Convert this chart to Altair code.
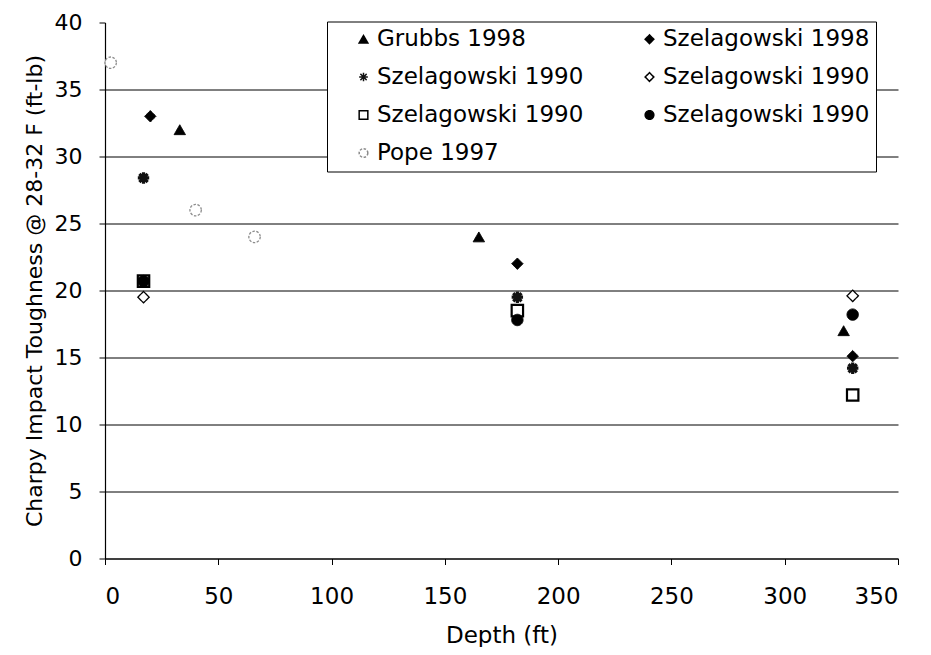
import altair as alt
import pandas as pd

# ---- data ----
series_keys = [
    "Grubbs 1998|a",
    "Szelagowski 1998|b",
    "Szelagowski 1990|c",
    "Szelagowski 1990|d",
    "Szelagowski 1990|e",
    "Szelagowski 1990|f",
    "Pope 1997|g",
]
grubbs_1998_x = [33, 165, 326]
grubbs_1998_y = [32, 24, 17]
szel_1998_x = [20, 182, 330]
szel_1998_y = [33, 22, 15.1]
szel_1990_star_x = [17, 17, 182, 330]
szel_1990_star_y = [28.4, 20.7, 19.5, 14.2]
szel_1990_odiam_x = [17, 182, 330]
szel_1990_odiam_y = [19.5, 18.2, 19.6]
szel_1990_osq_x = [17, 182, 330]
szel_1990_osq_y = [20.7, 18.5, 12.2]
szel_1990_circ_x = [17, 182, 330]
szel_1990_circ_y = [20.7, 17.8, 18.2]
pope_1997_x = [2.5, 40, 66]
pope_1997_y = [37, 26, 24]

x_ticks = [0, 50, 100, 150, 200, 250, 300, 350]
y_ticks = [0, 5, 10, 15, 20, 25, 30, 35, 40]

# ---- styles ----
asterisk = "M-1,0L1,0M0,-1L0,1M-0.72,-0.72L0.72,0.72M-0.72,0.72L0.72,-0.72"
shapes = ["triangle-up", "diamond", asterisk, "diamond", "square", "circle", "circle"]
fills = ["#000000", "#000000", "#000000", "#ffffff", "#ffffff", "#000000", "#ffffff"]
strokes = ["#000000", "#000000", "#111111", "#000000", "#000000", "#000000", "#8c8c8c"]
widths = [1, 1, 3.2, 1.3, 2.2, 1, 1.3]
dashes = [[1, 0], [1, 0], [1, 0], [1, 0], [1, 0], [1, 0], [2.5, 1.5]]

pairs = [
    (grubbs_1998_x, grubbs_1998_y),
    (szel_1998_x, szel_1998_y),
    (szel_1990_star_x, szel_1990_star_y),
    (szel_1990_odiam_x, szel_1990_odiam_y),
    (szel_1990_osq_x, szel_1990_osq_y),
    (szel_1990_circ_x, szel_1990_circ_y),
    (pope_1997_x, pope_1997_y),
]
rows = []
for i, (key, (xs, ys)) in enumerate(zip(series_keys, pairs)):
    for xv, yv in zip(xs, ys):
        rows.append({"key": key, "order": i, "sw": widths[i], "depth": xv, "tough": yv})
df = pd.DataFrame(rows)

FONT = "DejaVu Sans"

leg = alt.Legend(
    title=None,
    orient="none",
    legendX=222,
    legendY=-1,
    direction="horizontal",
    columns=2,
    labelExpr="split(datum.label, '|')[0]",
    labelFont=FONT,
    labelFontSize=23,
    labelColor="#000000",
    labelLimit=400,
    symbolSize=75,
    symbolStrokeWidth=1.5,
    symbolOffset=19,
    labelOffset=2,
    strokeColor="#000000",
    fillColor="#ffffff",
    padding=6,
    rowPadding=14,
    columnPadding=35,
)

points = alt.Chart(df).mark_point(opacity=1, fillOpacity=1, size=130).encode(
    x=alt.X(
        "depth:Q",
        scale=alt.Scale(domain=[0, 350], nice=False, zero=False),
        axis=alt.Axis(
            title="Depth (ft)",
            values=x_ticks,
            grid=False,
            tickSize=6,
            labelPadding=21,
            labelFontSize=23,
            titleFontSize=23,
            titlePadding=16,
        ),
    ),
    y=alt.Y(
        "tough:Q",
        scale=alt.Scale(domain=[0, 40], nice=False),
        axis=alt.Axis(
            title="Charpy Impact Toughness @ 28-32 F (ft-lb)",
            values=y_ticks,
            grid=True,
            gridColor={
                "condition": {"test": "datum.value >= 40", "value": "transparent"},
                "value": "#000000",
            },
            tickSize=6,
            labelPadding=17,
            labelFontSize=22,
            titleFontSize=22,
            titlePadding=8,
        ),
    ),
    shape=alt.Shape("key:N", scale=alt.Scale(domain=series_keys, range=shapes), legend=leg),
    fill=alt.Fill("key:N", scale=alt.Scale(domain=series_keys, range=fills), legend=leg),
    stroke=alt.Stroke("key:N", scale=alt.Scale(domain=series_keys, range=strokes), legend=leg),
    strokeDash=alt.StrokeDash("key:N", scale=alt.Scale(domain=series_keys, range=dashes), legend=leg),
    strokeWidth=alt.StrokeWidth("sw:Q", scale=None, legend=None),
    order=alt.Order("order:Q"),
)

chart = points.properties(
    width=793,
    height=536,
    autosize=alt.AutoSizeParams(type="none"),
    padding={"left": 97, "top": 14.5, "right": 25, "bottom": 88},
).configure_view(stroke=None).configure_axis(
    domainColor="#000000",
    tickColor="#000000",
    labelColor="#000000",
    titleColor="#000000",
    labelFont=FONT,
    titleFont=FONT,
    titleFontWeight="normal",
    gridWidth=1,
    domainWidth=1.2,
)

chart.save("out.html", embed_options={"renderer": "svg", "actions": False})
